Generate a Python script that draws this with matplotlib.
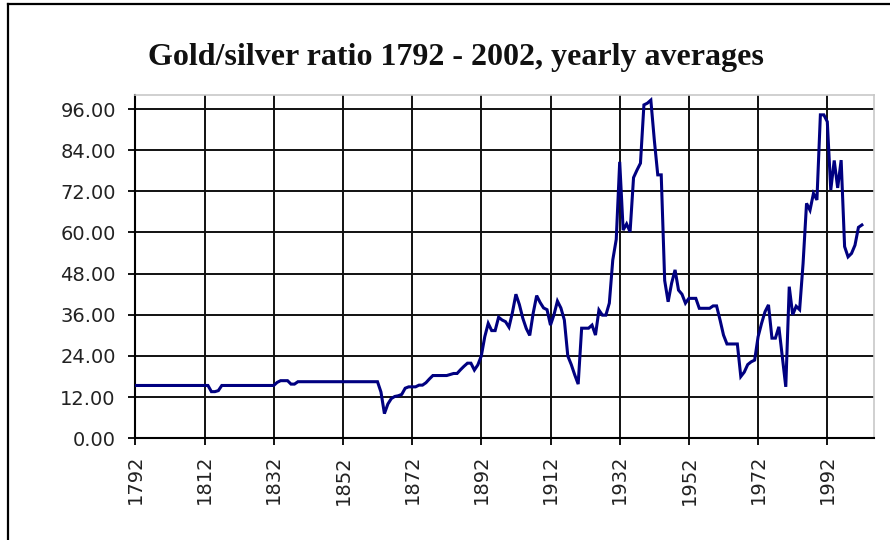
import numpy as np
import matplotlib
matplotlib.use("Agg")
import matplotlib.pyplot as plt
from matplotlib.lines import Line2D

# ---- data ----
first_year = 1792
last_year = 2002
ratio = [
    15.4, 15.4, 15.4, 15.4, 15.4, 15.4, 15.4, 15.4, 15.4, 15.4,   # 1792-1801
    15.4, 15.4, 15.4, 15.4, 15.4, 15.4, 15.4, 15.4, 15.4, 15.4,   # 1802-1811
    15.4, 15.4, 13.6, 13.6, 13.9, 15.4, 15.4, 15.4, 15.4, 15.4,   # 1812-1821
    15.4, 15.4, 15.4, 15.4, 15.4, 15.4, 15.4, 15.4, 15.4, 15.4,   # 1822-1831
    15.4, 16.3, 16.8, 16.8, 16.8, 15.8, 15.8, 16.5, 16.5, 16.5,   # 1832-1841
    16.5, 16.5, 16.5, 16.5, 16.5, 16.5, 16.5, 16.5, 16.5, 16.5,   # 1842-1851
    16.5, 16.5, 16.5, 16.5, 16.5, 16.5, 16.5, 16.5, 16.5, 16.5,   # 1852-1861
    16.5, 13.5, 7.2, 10.0, 11.6, 12.2, 12.4, 12.8, 14.6, 15.0,    # 1862-1871
    15.0, 15.0, 15.5, 15.5, 16.2, 17.3, 18.3, 18.3, 18.3, 18.3,   # 1872-1881
    18.3, 18.6, 18.9, 18.9, 20.0, 21.0, 21.9, 21.9, 19.9, 21.4,   # 1882-1891
    24.0, 29.6, 33.5, 31.4, 31.4, 35.3, 34.5, 34.0, 32.4, 36.7,   # 1892-1901
    42.0, 39.0, 35.0, 32.0, 30.0, 36.5, 41.6, 39.6, 38.0, 37.5,   # 1902-1911
    33.0, 36.0, 40.0, 38.0, 34.5, 24.0, 21.5, 18.5, 15.8, 32.1,   # 1912-1921
    32.1, 32.1, 33.0, 30.1, 37.4, 35.9, 35.9, 39.4, 52.0, 58.0,   # 1922-1931
    80.6, 60.7, 62.5, 60.2, 76.0, 78.2, 80.2, 97.2, 97.7, 98.6,   # 1932-1941
    87.0, 76.8, 76.8, 46.0, 39.8, 45.2, 49.1, 43.2, 42.0, 39.4,   # 1942-1951
    40.8, 40.8, 40.8, 37.9, 37.9, 37.9, 37.9, 38.6, 38.6, 34.5,   # 1952-1961
    30.1, 27.5, 27.5, 27.5, 27.5, 18.0, 19.3, 21.5, 22.3, 22.8,   # 1962-1971
    29.6, 33.5, 36.9, 38.9, 29.2, 29.2, 32.5, 23.8, 15.0, 44.2,   # 1972-1981
    36.0, 38.5, 37.5, 51.0, 68.5, 66.5, 71.4, 69.5, 94.3, 94.3,   # 1982-1991
    92.3, 72.4, 81.0, 73.0, 81.1, 55.9, 52.9, 53.9, 56.3, 61.5,   # 1992-2001
    62.2,                                                         # 2002
]
years = np.arange(first_year, last_year + 1)
tick_years = [1792, 1812, 1832, 1852, 1872, 1892, 1912, 1932, 1952, 1972, 1992]
y_ticks = [0, 12, 24, 36, 48, 60, 72, 84, 96]
title = "Gold/silver ratio 1792 - 2002, yearly averages"

# ---- figure ----
W, H = 890, 540
fig = plt.figure(figsize=(W / 100, H / 100), dpi=100)
fig.patch.set_facecolor("white")

ax_left, ax_right, ax_top, ax_bottom = 135.3, 874.0, 95.3, 438.3
ax = fig.add_axes([ax_left / W, 1 - ax_bottom / H,
                   (ax_right - ax_left) / W, (ax_bottom - ax_top) / H])

ax.plot(years, ratio, color="#000080", lw=2.2, solid_joinstyle="miter", zorder=3)

ax.set_xlim(1792, 1792 + (ax_right - ax_left) / 3.46)
ax.set_ylim(0, 100)
ax.set_xticks(tick_years)
ax.set_xticklabels([str(t) for t in tick_years], rotation=90)
ax.set_yticks(y_ticks)
ax.set_yticklabels([f"{v:.2f}" for v in y_ticks])

ax.grid(True, color="#111111", lw=1.4, zorder=1)
ax.set_axisbelow(True)

for s in ("left", "bottom"):
    ax.spines[s].set_color("black")
    ax.spines[s].set_linewidth(1.5)
for s in ("top", "right"):
    ax.spines[s].set_color("#c8c8c8")
    ax.spines[s].set_linewidth(1.2)

ax.tick_params(axis="y", direction="out", length=5, width=1.3, pad=9,
               labelsize=14, labelcolor="#222222")
ax.tick_params(axis="x", direction="out", length=5, width=1.3, pad=7,
               labelsize=14, labelcolor="#222222")
for lab in ax.get_xticklabels() + ax.get_yticklabels():
    lab.set_family("DejaVu Sans")

fig.text(456 / W, 1 - 58 / H, title, ha="center", va="center",
         fontsize=23, fontweight="bold", family="Liberation Serif", color="#111111")

# outer frame (left and top edges visible)
fig.add_artist(Line2D([8 / W, 8 / W], [0, 1 - 4 / H], color="black", lw=1.6,
                      transform=fig.transFigure))
fig.add_artist(Line2D([8 / W, 1], [1 - 4 / H, 1 - 4 / H], color="black", lw=1.6,
                      transform=fig.transFigure))

fig.savefig("out.png", dpi=100, facecolor="white")
